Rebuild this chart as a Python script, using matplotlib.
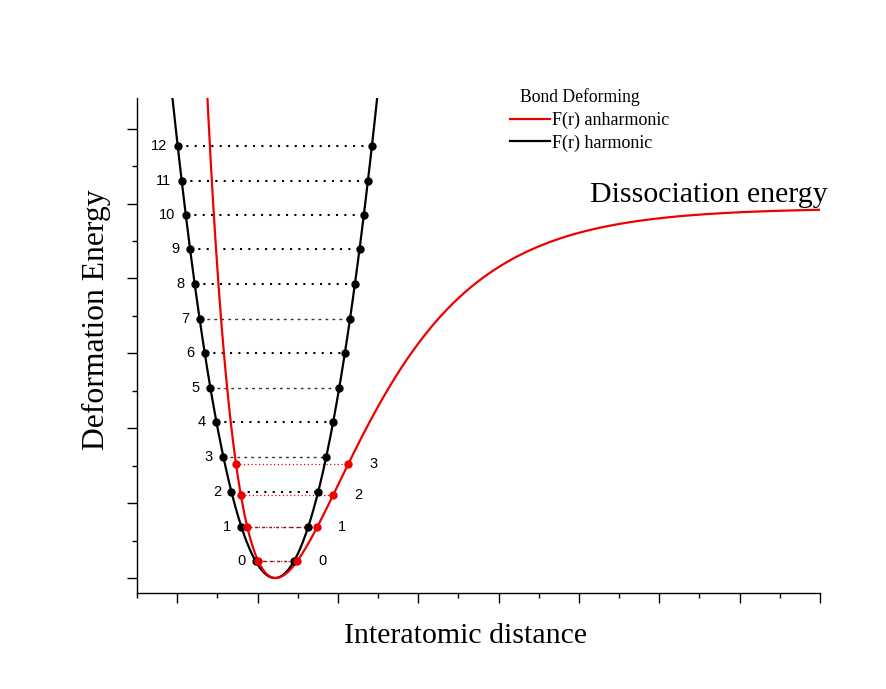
import numpy as np
import matplotlib
matplotlib.use("Agg")
import matplotlib.pyplot as plt
from matplotlib.lines import Line2D
from matplotlib.ticker import MultipleLocator

# ---- data ----
harmonic_levels = [0.45, 1.37, 2.30, 3.23, 4.17, 5.08, 6.01, 6.92, 7.85, 8.78, 9.69, 10.61, 11.54]
harmonic_labels = [str(i) for i in range(13)]
anharmonic_levels = [0.45, 1.36, 2.22, 3.04]
anharmonic_labels = [str(i) for i in range(4)]
# curve parameters (harmonic: k, x0 ; anharmonic Morse: D, a, re)
harm_k, harm_x0 = 7.9, 2.215
morse_D, morse_a, morse_re = 9.88, 0.896, 2.225

serif = ["Liberation Serif", "DejaVu Serif"]
sans = ["Liberation Sans", "DejaVu Sans"]

fig = plt.figure(figsize=(8.86, 6.89), dpi=100)
fig.patch.set_facecolor("white")
ax = fig.add_axes([137/886, 96/689, (820-137)/886, (593-98)/689])
ax.set_xlim(0.5, 9.0)
ax.set_ylim(-0.40, 12.82)

# curves
xh = np.linspace(0.8, 3.7, 600)
ax.plot(xh, harm_k*(xh-harm_x0)**2, color="black", lw=1.6, zorder=3)
xm = np.linspace(1.3, 9.0, 1500)
ax.plot(xm, morse_D*(1-np.exp(-morse_a*(xm-morse_re)))**2, color="#ee0000", lw=1.6, zorder=3)

light = {0, 1, 3, 5, 7}
for i, (E, lab) in enumerate(zip(harmonic_levels, harmonic_labels)):
    hw = np.sqrt(E/harm_k)
    xl, xr = harm_x0-hw, harm_x0+hw
    if i in light:
        ax.plot([xl, xr], [E, E], color="#333333", lw=1.0, ls=(0, (2, 3)), zorder=2)
    else:
        ax.plot([xl, xr], [E, E], color="black", lw=1.5, ls=(0, (1, 3)), zorder=2)
    ax.plot([xl, xr], [E, E], ls="none", marker="o", ms=5, color="black", zorder=4)
    ax.annotate(lab, (xl, E), xytext=(-7.5, 0), textcoords="offset points",
                ha="right", va="center", fontsize=10.5, family=sans)

for E, lab in zip(anharmonic_levels, anharmonic_labels):
    s = np.sqrt(E/morse_D)
    xl = morse_re - np.log(1+s)/morse_a
    xr = morse_re - np.log(1-s)/morse_a
    ax.plot([xl, xr], [E, E], color="#ee0000", lw=0.9, ls=(0, (1, 2)), zorder=2)
    ax.plot([xl, xr], [E, E], ls="none", marker="o", ms=5, color="#ee0000", zorder=5)
    ax.annotate(lab, (xr, E), xytext=(15, 0), textcoords="offset points",
                ha="left", va="center", fontsize=10.5, family=sans)

# axes styling
for sp in ["top", "right"]:
    ax.spines[sp].set_visible(False)
for sp in ["left", "bottom"]:
    ax.spines[sp].set_linewidth(1.0)
ax.xaxis.set_major_locator(MultipleLocator(1))
ax.xaxis.set_minor_locator(MultipleLocator(0.5))
ax.yaxis.set_major_locator(MultipleLocator(2))
ax.yaxis.set_minor_locator(MultipleLocator(1))
ax.tick_params(which="major", direction="out", length=7, width=1.0,
               labelbottom=False, labelleft=False)
ax.tick_params(which="minor", direction="out", length=3.5, width=1.0)

# texts
fig.text(96/886, 1-320/689, "Deformation Energy", rotation=90, ha="center", va="center",
         fontsize=22.8, family=serif)
fig.text(465.5/886, 1-643/689, "Interatomic distance", ha="center", va="baseline",
         fontsize=21.5, family=serif)
fig.text(590/886, 1-202/689, "Dissociation energy", ha="left", va="baseline",
         fontsize=21.5, family=serif)
fig.text(579.5/886, 1-97/689, "Bond Deforming", ha="center", va="center",
         fontsize=12.7, family=serif)

handles = [Line2D([], [], color="#ee0000", lw=1.6), Line2D([], [], color="black", lw=1.6)]
ax.legend(handles, ["F(r) anharmonic", "F(r) harmonic"], loc="upper left",
          bbox_to_anchor=(510/886, 1-112/689), bbox_transform=fig.transFigure,
          frameon=False, borderpad=0, borderaxespad=0, handlelength=2.2,
          handletextpad=0.12, labelspacing=0.28, prop={"family": serif, "size": 13})

fig.savefig("out.png", dpi=100, facecolor="white")
